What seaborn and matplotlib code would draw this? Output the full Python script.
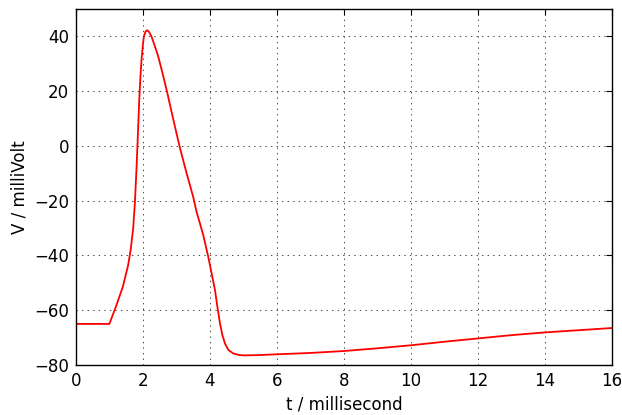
import matplotlib
matplotlib.use("Agg")
import matplotlib.pyplot as plt
import seaborn as sns
import pandas as pd

# Membrane potential trace (time in ms, voltage in mV)
t_ms = [0.0, 1.0, 1.2, 1.4, 1.56, 1.64, 1.71, 1.76, 1.81, 1.85, 1.89, 1.93, 1.96,
        2.0, 2.03, 2.08, 2.13, 2.19, 2.26, 2.36, 2.46, 2.58, 2.71, 2.9, 3.1,
        3.3, 3.5, 3.6, 3.8, 3.95, 4.05, 4.15, 4.22, 4.3, 4.37, 4.45, 4.55,
        4.7, 4.85, 5.0, 5.4, 5.8, 6.0, 7.0, 8.0, 9.0, 10.0, 11.0, 12.0,
        13.0, 14.0, 15.0, 16.0]
v_mV = [-65.0, -65.0, -58.5, -51.5, -43.5, -37.5, -30.0, -21.0, -8.0, 4.0, 16.5,
        26.0, 31.5, 37.0, 40.0, 41.8, 42.2, 41.5, 39.8, 36.3, 32.5, 26.8, 20.3,
        10.0, -0.5, -9.8, -18.6, -24.0, -32.5, -40.5, -46.5, -52.6, -58.5,
        -64.8, -69.0, -72.2, -74.5, -75.8, -76.3, -76.5, -76.4, -76.2, -76.1,
        -75.6, -74.9, -73.9, -72.8, -71.5, -70.3, -69.1, -68.1, -67.3, -66.5]

df = pd.DataFrame({"t": t_ms, "V": v_mV})

sns.set_style("white")
plt.rcParams.update({
    "font.family": ["DejaVu Sans"],
    "font.size": 12,
    "axes.edgecolor": "black",
    "axes.linewidth": 1.0,
    "xtick.direction": "in",
    "ytick.direction": "in",
    "xtick.top": True,
    "ytick.right": True,
    "xtick.major.size": 4,
    "ytick.major.size": 4,
    "xtick.color": "black",
    "ytick.color": "black",
    "axes.labelcolor": "black",
})

fig = plt.figure(figsize=(6.22, 4.15), dpi=100)
ax = fig.add_axes([0.122, 0.1205, 0.862, 0.858])

sns.lineplot(data=df, x="t", y="V", ax=ax, color="red", linewidth=1.3,
             sort=False, estimator=None)

ax.set_xlim(0, 16)
ax.set_ylim(-80, 50)
ax.set_xticks(range(0, 17, 2))
ax.set_yticks(range(-80, 41, 20))
ax.set_xlabel("t / millisecond")
ax.set_ylabel("V / milliVolt")
ax.grid(True, color="black", linewidth=0.5, dashes=(2, 6))
ax.tick_params(labelsize=12, pad=5)

fig.savefig("out.png", dpi=100)
